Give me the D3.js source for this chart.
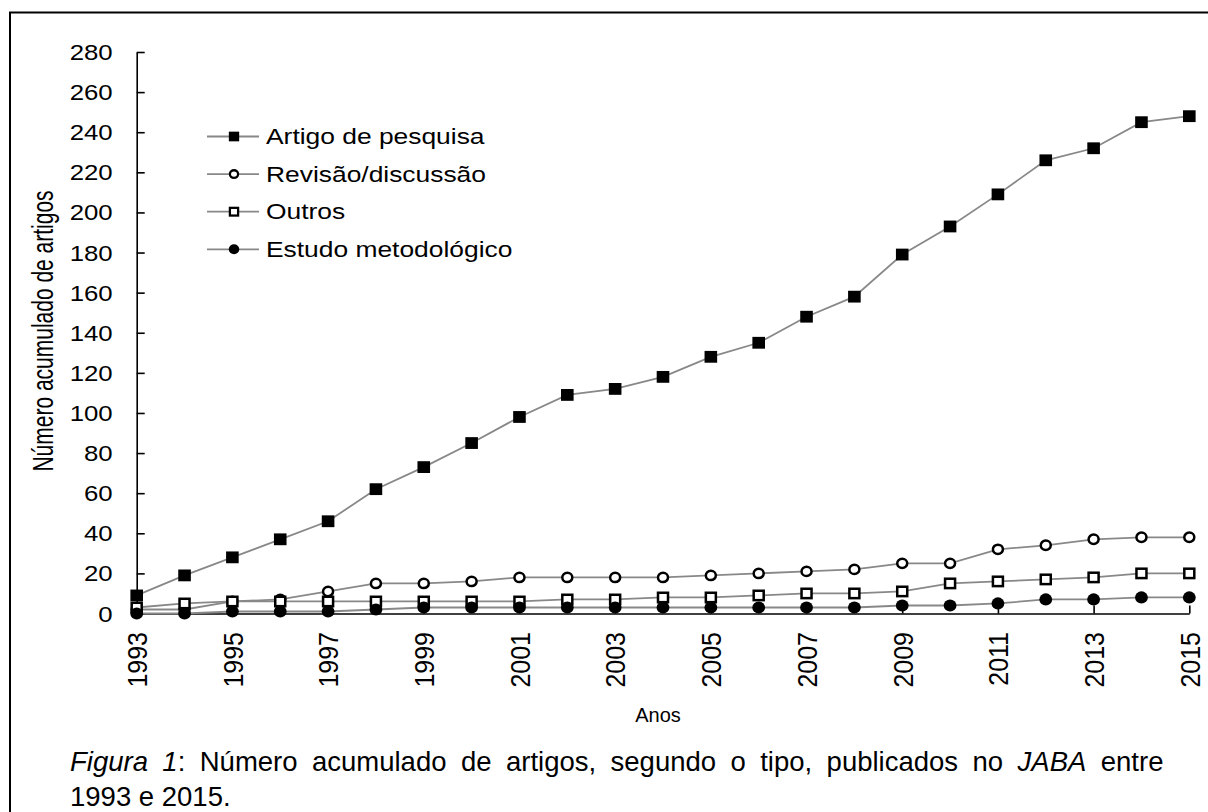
<!DOCTYPE html>
<html>
<head>
<meta charset="utf-8">
<script src="https://cdn.jsdelivr.net/npm/d3@7"></script>
<style>
  html, body { margin: 0; padding: 0; background: #fff; }
  svg { display: block; font-family: "Liberation Sans", Arial, sans-serif; }
</style>
</head>
<body>
<svg id="chart" width="1208" height="812"></svg>
<script>
// cumulative counts per year
const years = d3.range(1993, 2016);
const artigo   = [9, 19, 28, 37, 46, 62, 73, 85, 98, 109, 112, 118, 128, 135, 148, 158, 179, 193, 209, 226, 232, 245, 248];
const revisao  = [2, 2, 6, 7, 11, 15, 15, 16, 18, 18, 18, 18, 19, 20, 21, 22, 25, 25, 32, 34, 37, 38, 38];
const outros   = [3, 5, 6, 6, 6, 6, 6, 6, 6, 7, 7, 8, 8, 9, 10, 10, 11, 15, 16, 17, 18, 20, 20];
const estudo   = [0, 0, 1, 1, 1, 2, 3, 3, 3, 3, 3, 3, 3, 3, 3, 3, 4, 4, 5, 7, 7, 8, 8];
const yTicks = d3.range(0, 281, 20);
const xTickYears = years.filter(y => y % 2 === 1);

const series = [
  { name: 'Artigo de pesquisa', values: artigo, marker: 'squareFilled' },
  { name: 'Revisão/discussão', values: revisao, marker: 'circleOpen' },
  { name: 'Outros', values: outros, marker: 'squareOpen' },
  { name: 'Estudo metodológico', values: estudo, marker: 'circleFilled' }
];

// the chart picture is a little wider than tall in the source, so its text is stretched
const SX = 1.2;
const FONT = '"Liberation Sans", Arial, sans-serif';

const svg = d3.select('#chart');

// figure frame (runs off the page at right and bottom)
svg.append('path')
  .attr('d', 'M10,1000 V12.5 H1300')
  .attr('fill', 'none').attr('stroke', '#000').attr('stroke-width', 2);

const x = d3.scaleLinear().domain([1993, 2015]).range([136.7, 1189.3]);
const y = d3.scaleLinear().domain([0, 280]).range([613.5, 52]);

// y axis: ticks point into the plot
const yAxis = svg.append('g').attr('transform', `translate(${x(1993)},0)`)
  .call(d3.axisRight(y).tickValues(yTicks).tickSize(8).tickSizeOuter(0));
yAxis.select('.domain').attr('stroke-width', 1.6);
yAxis.selectAll('.tick line').attr('stroke-width', 1.6);
yAxis.selectAll('.tick text')
  .attr('x', 0).attr('dy', '0.35em')
  .attr('transform', `translate(-24,0) scale(${SX},1)`)
  .attr('text-anchor', 'end')
  .attr('font-size', 21.5).attr('font-family', FONT).attr('fill', '#000');

// x axis: ticks at odd years, pointing up
const xAxis = svg.append('g').attr('transform', `translate(0,${y(0)})`)
  .call(d3.axisTop(x).tickValues(xTickYears).tickSize(8).tickSizeOuter(0).tickFormat(d3.format('d')));
xAxis.select('.domain').attr('stroke-width', 1.6);
xAxis.selectAll('.tick line').attr('stroke-width', 1.6);
xAxis.selectAll('.tick text')
  .attr('x', 0).attr('y', 0).attr('dy', '0.35em')
  .attr('transform', 'translate(0,18.5) scale(1.12,1) rotate(-90)')
  .attr('text-anchor', 'end')
  .attr('font-size', 25).attr('font-family', FONT).attr('fill', '#000');

// axis titles
svg.append('text')
  .attr('transform', `translate(43,331) scale(1.4,1) rotate(-90)`)
  .attr('text-anchor', 'middle').attr('dy', '0.35em')
  .attr('font-size', 21).text('Número acumulado de artigos');
svg.append('text')
  .attr('transform', 'translate(658,722)')
  .attr('text-anchor', 'middle')
  .attr('font-size', 20).text('Anos');

function drawMarker(g, type, k = 1) {
  if (type === 'squareFilled') {
    g.append('rect').attr('x', -6.3 * k).attr('y', -5.9 * k).attr('width', 12.6 * k).attr('height', 11.8 * k).attr('fill', '#000');
  } else if (type === 'squareOpen') {
    g.append('rect').attr('x', -5 * k).attr('y', -4.7 * k).attr('width', 10 * k).attr('height', 9.4 * k)
      .attr('fill', '#fff').attr('stroke', '#000').attr('stroke-width', 2.5 * Math.sqrt(k));
  } else if (type === 'circleOpen') {
    g.append('ellipse').attr('rx', 5 * k).attr('ry', 4.7 * k)
      .attr('fill', '#fff').attr('stroke', '#000').attr('stroke-width', 2.5 * Math.sqrt(k));
  } else {
    g.append('ellipse').attr('rx', 6.4 * k).attr('ry', 6.1 * k).attr('fill', '#000');
  }
}

const line = d3.line().x((d, i) => x(years[i])).y(d => y(d));

// lines and markers, in series order (last one sits on top)
series.forEach(s => {
  const g = svg.append('g').attr('class', 'series');
  g.append('path').datum(s.values)
    .attr('d', line).attr('fill', 'none').attr('stroke', '#888').attr('stroke-width', 1.8);
  g.selectAll('g.pt').data(s.values).join('g')
    .attr('class', 'pt')
    .attr('transform', (d, i) => `translate(${x(years[i])},${y(d)})`)
    .each(function() { drawMarker(d3.select(this), s.marker); });
});

// legend
const legend = svg.append('g').attr('transform', 'translate(207,136.5)');
series.forEach((s, i) => {
  const row = legend.append('g').attr('transform', `translate(0,${i * 37.6})`);
  row.append('line').attr('x1', 0).attr('x2', 52).attr('stroke', '#888').attr('stroke-width', 1.8);
  const m = row.append('g').attr('transform', 'translate(27,0)');
  drawMarker(m, s.marker, 0.82);
  row.append('text').attr('transform', `translate(59,0) scale(${SX},1)`)
    .attr('dy', '0.35em').attr('font-size', 22).text(s.name);
});

// caption (document text, not stretched), first line justified
const capLeft = 70, capRight = 1177;
const cap1 = svg.append('text').attr('x', capLeft).attr('y', 771).attr('font-size', 27.5);
cap1.append('tspan').attr('font-style', 'italic').text('Figura 1');
cap1.append('tspan').text(': Número acumulado de artigos, segundo o tipo, publicados no ');
cap1.append('tspan').attr('font-style', 'italic').text('JABA');
cap1.append('tspan').text(' entre');
const natural = cap1.node().getComputedTextLength();
const gaps = 14;
cap1.style('word-spacing', `${(capRight - capLeft - natural) / gaps}px`);

svg.append('text').attr('x', capLeft).attr('y', 806).attr('font-size', 27.5).text('1993 e 2015.');
</script>
</body>
</html>
